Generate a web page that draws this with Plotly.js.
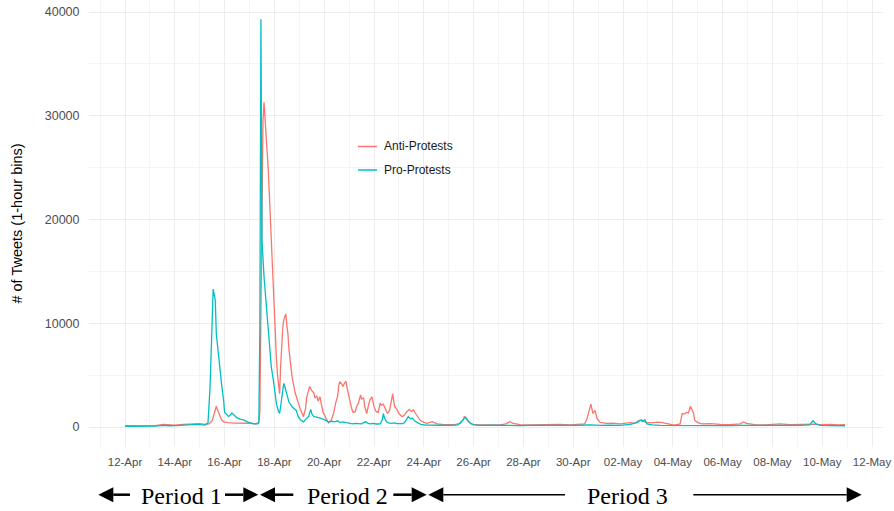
<!DOCTYPE html>
<html><head><meta charset="utf-8">
<script src="https://cdn.plot.ly/plotly-3.0.1.min.js"></script>
<style>html,body{margin:0;padding:0;background:#fff}#chart{width:894px;height:511px}</style>
</head><body><div id="chart"></div>
<script>
// hours since 2020-04-12 00:00 and hourly tweet counts
const antiHour = [0,10,19,29,37,41,48,56,63,68,72,77,81,84,86,88,89,91,93,95,99,106,113,120,126,129,130,131,132,133,134,135,136,137,138,139,140,141,142,143,144,145,146,147,148,149,150,151,152,153,154,155,156,157,158,159,161,164,167,169,172,174,175,177,178,180,182,183,185,186,188,189,191,194,196,199,201,203,205,206,207,209,210,212,213,214,215,217,219,220,222,223,225,227,228,230,231,233,234,236,238,239,240,242,244,246,247,249,251,253,255,256,258,259,260,262,264,267,269,271,273,274,276,278,280,283,285,288,291,296,298,301,306,311,318,323,326,327,329,331,335,342,352,362,367,371,374,381,390,400,410,419,429,439,443,445,447,449,451,453,455,458,464,470,477,487,491,496,499,503,508,513,518,522,527,531,535,537,539,541,543,545,548,549,552,556,564,574,583,593,596,599,607,617,627,631,641,651,656,663,670,680,687,694];
const antiCount = [120,110,120,130,250,200,180,260,300,260,330,250,300,600,1200,2000,1700,1100,700,500,420,380,400,360,300,450,1500,10000,24000,29500,31300,30000,28300,26500,25000,22500,20300,17500,15000,12240,10500,9000,6500,5000,3800,3200,5800,8000,9500,10300,10700,10900,9800,9000,7500,6460,4850,3300,2300,1700,1000,1800,2800,3500,3900,3500,3300,2800,3000,2500,2900,2300,1400,800,400,700,1300,2300,3000,4000,4370,4100,3900,4300,4400,3800,3250,2400,1600,1400,1500,1900,2300,3100,2700,2800,2000,1300,1800,2600,2900,2400,1960,1500,1400,2300,2100,2200,1700,1300,1600,2200,3200,2500,1960,1700,1300,1000,1100,1400,1600,1700,1500,1650,1300,850,600,450,350,520,400,300,250,220,230,350,700,1000,850,500,250,200,230,200,300,510,350,220,200,230,200,250,200,250,300,700,1500,2200,1300,1600,800,450,350,380,300,420,350,650,550,450,400,470,420,300,220,200,300,1300,1250,1400,1350,2000,1300,650,420,300,330,250,220,300,480,350,220,200,250,300,220,250,200,280,230,260,200,220];
const proHour = [0,14,29,37,43,53,63,70,77,80,82,84,85,87,88,90,92,93,95,96,100,103,105,108,111,114,118,121,124,128,129,130,131,132,133,134,135,137,138,140,141,143,145,146,148,149,150,151,152,153,154,156,158,161,163,165,167,169,172,173,175,177,178,179,180,182,185,188,191,194,197,199,202,205,207,210,213,216,219,222,225,228,230,232,234,236,239,242,246,248,249,250,252,254,257,260,262,265,268,270,272,273,275,277,279,282,285,290,295,304,314,321,324,326,328,330,333,336,342,352,361,371,381,390,400,410,419,429,439,448,458,467,477,487,491,494,496,498,499,501,503,508,516,526,535,545,554,564,574,583,593,602,612,622,631,641,651,660,663,666,670,680,689,694];
const proCount = [60,60,80,150,120,150,200,250,180,400,3900,9000,13300,12200,9000,7100,4900,4200,2600,1400,1000,1350,1150,870,750,680,500,390,300,300,400,10000,39300,18000,15500,14500,13200,10600,9000,7000,5800,4500,3000,2200,1500,1300,2000,2800,3800,4200,3900,3200,2400,1950,1800,1600,1000,700,500,650,850,1000,1500,1700,1300,1000,950,870,750,610,450,550,500,600,430,500,450,330,300,340,320,300,420,500,380,300,340,290,300,700,1300,900,500,400,350,400,330,300,320,500,800,1000,800,850,600,400,250,180,160,170,160,200,500,750,950,700,350,200,160,180,150,170,140,160,150,170,150,160,170,200,150,180,160,250,350,450,600,700,550,700,300,200,150,140,150,160,140,160,150,140,160,150,140,160,150,140,160,200,600,300,150,130,140,120];
const seriesNames = ['Anti-Protests', 'Pro-Protests'];
const seriesColors = ['#F8766D', '#00BFC4'];
const periodLabels = ['Period 1', 'Period 2', 'Period 3'];
const yTitle = '# of Tweets (1-hour bins)';

const T0 = Date.UTC(2020, 3, 12);
function toDates(hours) {
  return hours.map(h => new Date(T0 + h * 3600000).toISOString().slice(0, 19).replace('T', ' '));
}

// plot-area pixel frame
const PL = 89, PR = 883, PT = 0, PB = 447, W = 894, H = 511;
const fx = x => (x - PL) / (PR - PL);
const fy = y => (PB - y) / (PB - PT);

const traces = [
  {x: toDates(antiHour), y: antiCount, name: seriesNames[0], type: 'scatter', mode: 'lines',
   line: {color: seriesColors[0], width: 1.3}},
  {x: toDates(proHour), y: proCount, name: seriesNames[1], type: 'scatter', mode: 'lines',
   line: {color: seriesColors[1], width: 1.3}}
];

const shapes = [];
const annotations = [];
// custom legend
[146.5, 170].forEach((yy, i) => {
  shapes.push({type: 'line', xref: 'paper', yref: 'paper', x0: fx(358), x1: fx(377), y0: fy(yy), y1: fy(yy),
    line: {color: seriesColors[i], width: 1.5}});
  annotations.push({xref: 'paper', yref: 'paper', x: fx(382), y: fy(yy), xanchor: 'left', yanchor: 'middle',
    text: seriesNames[i], showarrow: false, font: {size: 12, color: '#1A1A1A', family: 'Liberation Sans, Arial, sans-serif'}});
});

// period arrows
const ay = 494.7;
function arrow(tip, tail, w) {
  const dir = tip > tail ? 1 : -1;
  const hl = 15, hw = 7.5;
  const base = tip - dir * hl;
  shapes.push({type: 'line', xref: 'paper', yref: 'paper', x0: fx(tail), x1: fx(base), y0: fy(ay), y1: fy(ay),
    line: {color: '#000', width: w}});
  shapes.push({type: 'path', xref: 'paper', yref: 'paper',
    path: `M${fx(tip)},${fy(ay)} L${fx(base)},${fy(ay - hw)} L${fx(base)},${fy(ay + hw)} Z`,
    fillcolor: '#000', line: {width: 0}});
}
arrow(98.3, 130, 2.5);
arrow(258.3, 225, 2.5);
arrow(260, 293.3, 2.5);
arrow(426.7, 393.3, 2.5);
arrow(428.3, 565, 1.5);
arrow(861.7, 693.3, 1.5);

[181.5, 347.5, 627.5].forEach((cx, i) => {
  annotations.push({xref: 'paper', yref: 'paper', x: fx(cx), y: fy(496), xanchor: 'center', yanchor: 'middle',
    text: periodLabels[i], showarrow: false, font: {size: 24, color: '#000', family: 'Liberation Serif, Times New Roman, serif'}});
});

const gridMajor = '#EDEDED', gridMinor = '#F4F4F4';
const layout = {
  width: W, height: H,
  margin: {l: PL, r: W - PR, t: PT, b: H - PB},
  paper_bgcolor: '#fff', plot_bgcolor: '#fff',
  showlegend: false,
  font: {family: 'Liberation Sans, Arial, sans-serif'},
  xaxis: {
    type: 'date',
    range: ['2020-04-10 13:18', '2020-05-12 10:34'],
    tick0: '2020-04-12', dtick: 2 * 86400000, tickformat: '%d-%b',
    showgrid: true, gridcolor: gridMajor, gridwidth: 1,
    minor: {dtick: 86400000, showgrid: true, gridcolor: gridMinor, gridwidth: 1},
    zeroline: false, showline: false,
    ticks: 'outside', ticklen: 4, tickcolor: 'rgba(0,0,0,0)',
    tickfont: {size: 11.5, color: '#4D4D4D'}
  },
  yaxis: {
    range: [-1928, 41157],
    tick0: 0, dtick: 10000, tickformat: 'd',
    showgrid: true, gridcolor: gridMajor, gridwidth: 1,
    minor: {dtick: 5000, showgrid: true, gridcolor: gridMinor, gridwidth: 1},
    zeroline: false, showline: false,
    ticks: 'outside', ticklen: 6, tickcolor: 'rgba(0,0,0,0)',
    tickfont: {size: 12.5, color: '#4D4D4D'},
    title: {text: yTitle, font: {size: 14.5, color: '#000'}, standoff: 18}
  },
  shapes: shapes,
  annotations: annotations
};

Plotly.newPlot('chart', traces, layout, {staticPlot: true, displayModeBar: false});
</script>
</body></html>
